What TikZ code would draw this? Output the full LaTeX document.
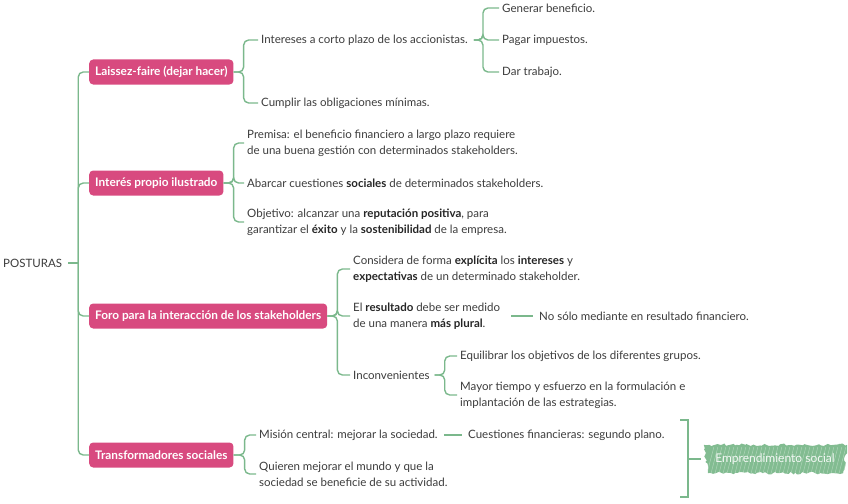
\documentclass[tikz,border=0pt]{standalone}
\usepackage{fontspec}
\setmainfont{Lato}
\usetikzlibrary{decorations.pathmorphing}
\definecolor{pinkbox}{HTML}{D84A7F}
\definecolor{lnk}{HTML}{7BB88C}
\definecolor{txt}{HTML}{3C3C3C}
\definecolor{empg}{HTML}{82BC91}
\newcommand{\fsz}{\fontsize{11.5}{16}\selectfont}
\newcommand{\tfsz}{\fontsize{11.8}{16}\selectfont}
\newcommand{\bb}[1]{\textbf{\color{black!85}#1}}
\tikzset{
  leaf/.style={anchor=west, inner xsep=3pt, inner ysep=1pt, font=\fsz, text=txt, align=left},
  topic/.style={anchor=west, fill=pinkbox, rounded corners=4pt, text=white, font=\tfsz\bfseries, minimum height=25pt, inner xsep=6pt},
  conn/.style={draw=lnk, line width=1.4pt, rounded corners=5pt},
}
\begin{document}
\begin{tikzpicture}[x=1pt,y=-1pt]
\useasboundingbox (0,0) rectangle (848,503);
% root
\node[leaf] (postu) at (0,263) {POSTURAS};
% topics
\node[topic] (lf) at (89,72) {Laissez-faire (dejar hacer)};
\node[topic] (ip) at (89,183) {Interés propio ilustrado};
\node[topic] (foro) at (89,316) {Foro para la interacción de los stakeholders};
\node[topic] (tr) at (89,455) {Transformadores sociales};
% laissez children
\node[leaf] (int) at (258,40) {Intereses a corto plazo de los accionistas.};
\node[leaf] (cum) at (258,103) {Cumplir las obligaciones mínimas.};
\node[leaf] (gen) at (499,8) {Generar beneficio.};
\node[leaf] (pag) at (499,40) {Pagar impuestos.};
\node[leaf] (dar) at (499,72) {Dar trabajo.};
% interes propio children
\node[leaf] (pre) at (244,143) {Premisa: el beneficio financiero a largo plazo requiere\\de una buena gestión con determinados stakeholders.};
\node[leaf] (aba) at (244,183) {Abarcar cuestiones \bb{sociales} de determinados stakeholders.};
\node[leaf] (obj) at (244,222) {Objetivo: alcanzar una \bb{reputación positiva}, para\\garantizar el \bb{éxito} y la \bb{sostenibilidad} de la empresa.};
% foro children
\node[leaf] (con) at (350,269) {Considera de forma \bb{explícita} los \bb{intereses} y\\\bb{expectativas} de un determinado stakeholder.};
\node[leaf] (res) at (350,316) {El \bb{resultado} debe ser medido\\de una manera \bb{más plural}.};
\node[leaf] (nos) at (536,316) {No sólo mediante en resultado financiero.};
\node[leaf] (inc) at (350,375) {Inconvenientes};
\node[leaf] (equ) at (457,356) {Equilibrar los objetivos de los diferentes grupos.};
\node[leaf] (may) at (457,395) {Mayor tiempo y esfuerzo en la formulación e\\implantación de las estrategias.};
% transformadores children
\node[leaf] (mis) at (256,435) {Misión central: mejorar la sociedad.};
\node[leaf] (qui) at (256,474) {Quieren mejorar el mundo y que la\\sociedad se beneficie de su actividad.};
\node[leaf] (cue) at (465,435) {Cuestiones financieras: segundo plano.};
% summary
\node[inner sep=0pt, minimum width=140pt, minimum height=28pt] (emp) at (775,459) {};
\pgfmathsetseed{7}
\fill[empg, decorate, decoration={random steps, segment length=2.5pt, amplitude=1.3pt}]
  ([xshift=3pt]emp.south west) -- ([xshift=-2pt]emp.south east) -- ([xshift=2pt]emp.north east) -- ([xshift=-1pt]emp.north west) -- cycle;
\foreach \i in {0,...,34}{
  \pgfmathsetmacro{\dx}{4*\i+2}
  \draw[white, opacity=0.35, line width=0.5pt] ([xshift=\dx pt, yshift=-1pt]emp.south west) -- ++(7,-27);
}
\node[text=white, opacity=0.9, font=\fontsize{12}{14}\selectfont] at (emp.center) {Emprendimiento social};
% connectors
\draw[conn, shorten <=3pt] (postu.east) -- ++(13,0) coordinate (trunk);
\foreach \t in {lf,ip,foro,tr}{\draw[conn] (trunk) |- (\t.west);}
\foreach \c in {int,cum}{\draw[conn] (lf.east) -- ++(10,0) |- (\c.west);}
\foreach \c in {gen,pag,dar}{\draw[conn, shorten <=3pt] (int.east) -- ++(12,0) |- (\c.west);}
\foreach \c in {pre,aba,obj}{\draw[conn] (ip.east) -- ++(10,0) |- (\c.west);}
\foreach \c in {con,res,inc}{\draw[conn] (foro.east) -- ++(10,0) |- (\c.west);}
\foreach \c in {equ,may}{\draw[conn, shorten <=2pt] (inc.east) -- ++(12,0) |- (\c.west);}
\foreach \c in {mis,qui}{\draw[conn] (tr.east) -- ++(11,0) |- (\c.west);}
\draw[conn, shorten <=8pt, shorten >=3pt] (res.east) -- (nos.west);
\draw[conn, shorten <=3pt, shorten >=3pt] (mis.east) -- (cue.west);
% right bracket
\coordinate (bt) at (680,420);
\coordinate (bbt) at (680,497);
\draw[conn, rounded corners=0pt] (bt) -- ++(8,0) -- ([xshift=8pt]bbt) -- (bbt);
\draw[conn] ([xshift=8pt]bt |- emp.west) -- ([xshift=-4pt]emp.west);
\end{tikzpicture}
\end{document}
